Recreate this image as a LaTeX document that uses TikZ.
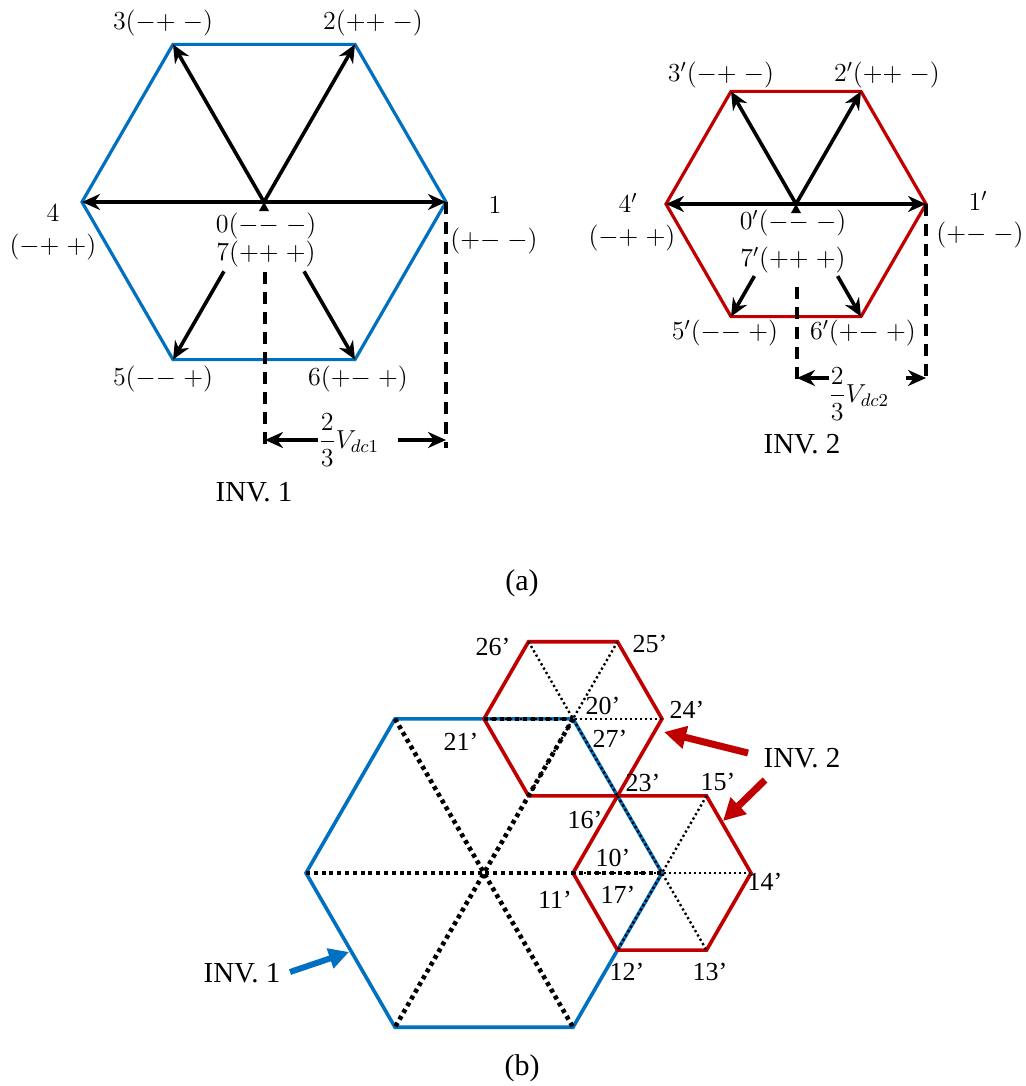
\RequirePackage{fix-cm}
\documentclass[tikz,border=0pt]{standalone}
\usepackage{fontspec}
\setmainfont{Liberation Serif}
\usetikzlibrary{arrows.meta,calc}
\definecolor{invblue}{RGB}{0,112,192}
\definecolor{invred}{RGB}{192,0,0}
\begin{document}
\begin{tikzpicture}[x=0.5pt,y=-0.5pt,
  hexblue/.style={draw=invblue,line width=1.6pt,line join=miter},
  hexred/.style={draw=invred,line width=1.6pt,line join=miter},
  vecarrow/.style={line width=1.8pt,-{Stealth[length=9pt,width=8pt]}},
  dimline/.style={line width=1.6pt,dash pattern=on 6pt off 4pt},
  mlab/.style={inner sep=0pt,font=\fontsize{13}{15}\selectfont},
  tlab/.style={inner sep=0pt,font=\fontsize{13}{15}\selectfont},
  invlab/.style={inner sep=0pt,font=\fontsize{14.5}{17}\selectfont},
  caplab/.style={inner sep=0pt,font=\fontsize{15}{18}\selectfont},
  thickdot/.style={line width=2.3pt,dash pattern=on 2pt off 1.9pt},
  thindot/.style={line width=1.2pt,dash pattern=on 1.1pt off 1.4pt},
  redpointer/.style={draw=invred,line width=3.5pt,-{Triangle[length=11pt,width=11pt]}},
  bluepointer/.style={draw=invblue,line width=3pt,-{Triangle[length=10pt,width=10pt]}}
]
\useasboundingbox (0,0) rectangle (1026,1086);

% ---------------- (a) INV. 1 ----------------
\coordinate (A0) at (264,202);
\coordinate (A1) at (446,202);
\coordinate (A2) at (355,44.4);
\coordinate (A3) at (173,44.4);
\coordinate (A4) at (82,202);
\coordinate (A5) at (173,359.6);
\coordinate (A6) at (355,359.6);
\draw[hexblue] (A1) -- (A2) -- (A3) -- (A4) -- (A5) -- (A6) -- cycle;
\draw[vecarrow] (A0) -- (A1);
\draw[vecarrow] (A0) -- (A2);
\draw[vecarrow] (A0) -- (A3);
\draw[vecarrow] (A0) -- (A4);
\coordinate (A5s) at ($(A0)!0.44!(A5)$);
\coordinate (A6s) at ($(A0)!0.44!(A6)$);
\draw[vecarrow] (A5s) -- (A5);
\draw[vecarrow] (A6s) -- (A6);
\fill (A0) -- ++(-5,9) -- ++(10,0) -- cycle;

\coordinate (da1) at (265,272);
\coordinate (da2) at (265,448);
\coordinate (db2) at (446,448);
\draw[dimline] (da1) -- (da2);
\draw[dimline] (A1) -- (db2);
\coordinate (ta1) at (318,440);
\coordinate (ha1) at (265,440);
\coordinate (tb1) at (398,440);
\coordinate (hb1) at (446,440);
\draw[vecarrow] (ta1) -- (ha1);
\draw[vecarrow] (tb1) -- (hb1);
\node[mlab,anchor=west] (f1) at (318,440) {$\displaystyle\frac{2}{3}V_{dc1}$};

\node[mlab] (l3) at (163,23) {$3({-}{+}\;{-})$};
\node[mlab] (l2) at (373,23) {$2({+}{+}\;{-})$};
\node[mlab] (l4a) at (53,213) {$4$};
\node[mlab] (l4b) at (53,247) {$({-}{+}\;{+})$};
\node[mlab] (l1a) at (495,205) {$1$};
\node[mlab] (l1b) at (494,241) {$({+}{-}\;{-})$};
\node[mlab] (l0) at (266,226) {$0({-}{-}\;{-})$};
\node[mlab] (l7) at (266,254) {$7({+}{+}\;{+})$};
\node[mlab] (l5) at (163,379) {$5({-}{-}\;{+})$};
\node[mlab] (l6) at (358,379) {$6({+}{-}\;{+})$};
\node[invlab] (inv1a) at (254,492) {INV. 1};

% ---------------- (a) INV. 2 ----------------
\coordinate (B0) at (796,204);
\coordinate (B1) at (926,204);
\coordinate (B2) at (861,91.4);
\coordinate (B3) at (731,91.4);
\coordinate (B4) at (666,204);
\coordinate (B5) at (731,316.6);
\coordinate (B6) at (861,316.6);
\draw[hexred] (B1) -- (B2) -- (B3) -- (B4) -- (B5) -- (B6) -- cycle;
\draw[vecarrow] (B0) -- (B1);
\draw[vecarrow] (B0) -- (B2);
\draw[vecarrow] (B0) -- (B3);
\draw[vecarrow] (B0) -- (B4);
\coordinate (B5s) at ($(B0)!0.64!(B5)$);
\coordinate (B6s) at ($(B0)!0.64!(B6)$);
\draw[vecarrow] (B5s) -- (B5);
\draw[vecarrow] (B6s) -- (B6);
\fill (B0) -- ++(-5,9) -- ++(10,0) -- cycle;

\coordinate (dc1) at (797,287);
\coordinate (dc2) at (797,383);
\coordinate (dd2) at (926,383);
\draw[dimline] (dc1) -- (dc2);
\draw[dimline] (B1) -- (dd2);
\coordinate (ta2) at (829,378);
\coordinate (ha2) at (797,378);
\coordinate (tb2) at (906,378);
\coordinate (hb2) at (926,378);
\draw[vecarrow] (ta2) -- (ha2);
\draw[vecarrow] (tb2) -- (hb2);
\node[mlab,anchor=west] (f2) at (828,394) {$\displaystyle\frac{2}{3}V_{dc2}$};

\node[mlab] (m3) at (721,75) {$3'({-}{+}\;{-})$};
\node[mlab] (m2) at (887,75) {$2'({+}{+}\;{-})$};
\node[mlab] (m4a) at (628,203) {$4'$};
\node[mlab] (m4b) at (632,238) {$({-}{+}\;{+})$};
\node[mlab] (m1a) at (978,201) {$1'$};
\node[mlab] (m1b) at (980,235) {$({+}{-}\;{-})$};
\node[mlab] (m0) at (793,223) {$0'({-}{-}\;{-})$};
\node[mlab] (m7) at (793,260) {$7'({+}{+}\;{+})$};
\node[mlab] (m5) at (725,333) {$5'({-}{-}\;{+})$};
\node[mlab] (m6) at (863,333) {$6'({+}{-}\;{+})$};
\node[invlab] (inv2a) at (802,444) {INV. 2};

\node[caplab] (capa) at (522,583) {(a)};

% ---------------- (b) ----------------
\coordinate (C0) at (484,873);
\coordinate (P1) at (662,873);
\coordinate (P2) at (573,718.8);
\coordinate (P3) at (395,718.8);
\coordinate (P4) at (306,873);
\coordinate (P5) at (395,1027.2);
\coordinate (P6) at (573,1027.2);
% upper red hexagon (centre P2)
\coordinate (U1) at (662,718.8);
\coordinate (U2) at (617.5,641.7);
\coordinate (U3) at (528.5,641.7);
\coordinate (U4) at (484,718.8);
\coordinate (U5) at (528.5,795.9);
\coordinate (U6) at (617.5,795.9);
% lower red hexagon (centre P1)
\coordinate (L1) at (751,873);
\coordinate (L2) at (706.5,795.9);
\coordinate (L3) at (617.5,795.9);
\coordinate (L4) at (573,873);
\coordinate (L5) at (617.5,950.1);
\coordinate (L6) at (706.5,950.1);

\draw[hexblue,line width=1.8pt] (P1) -- (P2) -- (P3) -- (P4) -- (P5) -- (P6) -- cycle;
\draw[hexred,line width=1.8pt] (U1) -- (U2) -- (U3) -- (U4) -- (U5) -- (U6) -- cycle;
\draw[hexred,line width=1.8pt] (L1) -- (L2) -- (L3) -- (L4) -- (L5) -- (L6) -- cycle;

% thin dotted diagonals of the red hexagons
\draw[thindot] (U1) -- (U4);
\draw[thindot] (U2) -- (U5);
\draw[thindot] (U3) -- (U6);
\draw[thindot] (L1) -- (L4);
\draw[thindot] (L2) -- (L5);
\draw[thindot] (L3) -- (L6);
% thick dotted diagonals of the blue hexagon
\draw[thickdot] (P4) -- (P1);
\draw[thickdot] (P3) -- (P6);
\draw[thickdot] (P2) -- (P5);
\draw[thickdot] (U4) -- (P2);

\node[tlab] (n26) at (493,647) {26’};
\node[tlab] (n25) at (650,644) {25’};
\node[tlab] (n20) at (603,706) {20’};
\node[tlab] (n24) at (687,710) {24’};
\node[tlab] (n21) at (461,742) {21’};
\node[tlab] (n27) at (610,739) {27’};
\node[tlab] (n23) at (643,783) {23’};
\node[tlab] (n15) at (718,782) {15’};
\node[tlab] (n16) at (585,820) {16’};
\node[tlab] (n10) at (613,858) {10’};
\node[tlab] (n17) at (618,895) {17’};
\node[tlab] (n11) at (555,900) {11’};
\node[tlab] (n14) at (765,882) {14’};
\node[tlab] (n12) at (627,972) {12’};
\node[tlab] (n13) at (710,972) {13’};

\node[invlab] (inv1b) at (242,973) {INV. 1};
\node[invlab] (inv2b) at (802,758) {INV. 2};
\coordinate (bt) at (290,972);
\coordinate (bh) at (349,952);
\draw[bluepointer] (bt) -- (bh);
\coordinate (rt1) at (748,753);
\coordinate (rh1) at (664,732);
\draw[redpointer] (rt1) -- (rh1);
\coordinate (rt2) at (765,780);
\coordinate (rh2) at (723,821);
\draw[redpointer] (rt2) -- (rh2);

\node[caplab] (capb) at (522,1068) {(b)};
\end{tikzpicture}
\end{document}
